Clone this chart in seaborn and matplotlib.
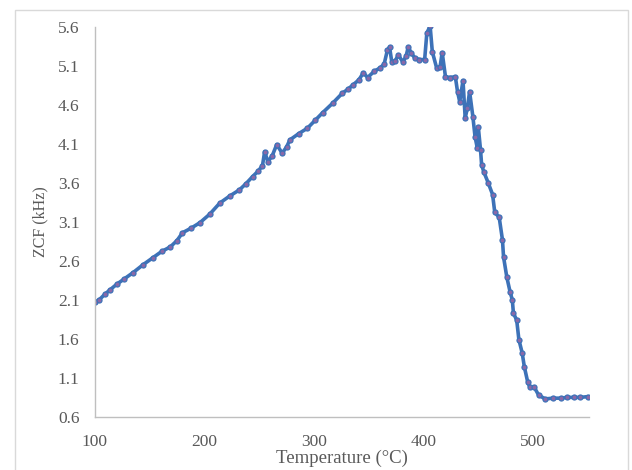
import matplotlib
matplotlib.use("Agg")
import matplotlib.pyplot as plt
import seaborn as sns
from matplotlib.patches import Rectangle

# Values
temperature = [100, 104, 109, 114, 120, 127, 135, 144, 153, 161, 169, 175, 180, 188,
               196, 205, 214, 223, 232, 238, 244, 249, 253, 255, 258, 262, 266, 271,
               275, 278, 286, 294, 301, 308, 317, 326, 331, 336, 341, 345, 349, 355,
               360, 364, 367, 369, 371, 374, 377, 381, 384, 386, 389, 392, 396, 401,
               403, 406, 408, 412, 415, 417, 420, 424, 429, 431, 433, 436, 438, 440,
               442, 445, 447, 449, 450, 452, 453, 455, 459, 463, 465, 469, 472, 473,
               476, 479, 481, 482, 485, 487, 490, 492, 495, 497, 501, 505, 511, 518,
               525, 531, 537, 543, 550]
zcf = [2.07, 2.10, 2.17, 2.23, 2.30, 2.37, 2.45, 2.55, 2.64, 2.72, 2.78, 2.86, 2.96, 3.02,
       3.09, 3.20, 3.34, 3.43, 3.51, 3.59, 3.68, 3.75, 3.82, 4.00, 3.87, 3.95, 4.09, 3.98,
       4.06, 4.15, 4.23, 4.30, 4.40, 4.50, 4.62, 4.75, 4.80, 4.86, 4.92, 5.01, 4.95, 5.03,
       5.07, 5.12, 5.30, 5.34, 5.15, 5.16, 5.24, 5.15, 5.22, 5.34, 5.26, 5.20, 5.18, 5.18,
       5.52, 5.61, 5.28, 5.07, 5.08, 5.27, 4.96, 4.95, 4.96, 4.77, 4.64, 4.91, 4.43, 4.56,
       4.77, 4.45, 4.19, 4.05, 4.31, 4.02, 3.83, 3.74, 3.60, 3.45, 3.22, 3.16, 2.87, 2.65,
       2.39, 2.20, 2.10, 1.93, 1.84, 1.59, 1.42, 1.24, 1.05, 0.98, 0.98, 0.88, 0.83, 0.84,
       0.84, 0.85, 0.85, 0.85, 0.86]
x_ticks = [100, 200, 300, 400, 500]
y_ticks = [0.6, 1.1, 1.6, 2.1, 2.6, 3.1, 3.6, 4.1, 4.6, 5.1, 5.6]

sns.set_style("white")
plt.rcParams["font.family"] = ["Liberation Serif", "DejaVu Serif"]

fig = plt.figure(figsize=(6.32, 4.70), dpi=100)
ax = fig.add_axes([0.150, 0.113, 0.782, 0.830])

# outer chart border
fig.patches.append(Rectangle((15 / 632, -0.05), 613 / 632, 1.05 - 10 / 470,
                             transform=fig.transFigure, fill=False,
                             edgecolor="#d9d9d9", linewidth=1))

sns.lineplot(x=temperature, y=zcf, ax=ax, sort=False, estimator=None,
             color="#3d72b8", linewidth=2.6, marker="o", markersize=3.6,
             markerfacecolor="#8a68a8", markeredgecolor="#3d72b8",
             markeredgewidth=0.9)

ax.set_xlim(100, 551)
ax.set_ylim(0.6, 5.6)
ax.set_xticks(x_ticks)
ax.set_yticks(y_ticks)
ax.set_yticklabels([f"{v:.1f}" for v in y_ticks])

for side in ["top", "right"]:
    ax.spines[side].set_visible(False)
for side in ["left", "bottom"]:
    ax.spines[side].set_color("#bfbfbf")
    ax.spines[side].set_linewidth(1)

ax.tick_params(axis="both", length=0, labelsize=12.5, colors="#595959")
ax.tick_params(axis="y", pad=11)
ax.tick_params(axis="x", pad=12)

ax.set_xlabel("Temperature (°C)", fontsize=13.5, color="#595959", labelpad=0)
ax.set_ylabel("ZCF (kHz)", fontsize=11.5, color="#595959", labelpad=7)

fig.savefig("out.png", dpi=100)
